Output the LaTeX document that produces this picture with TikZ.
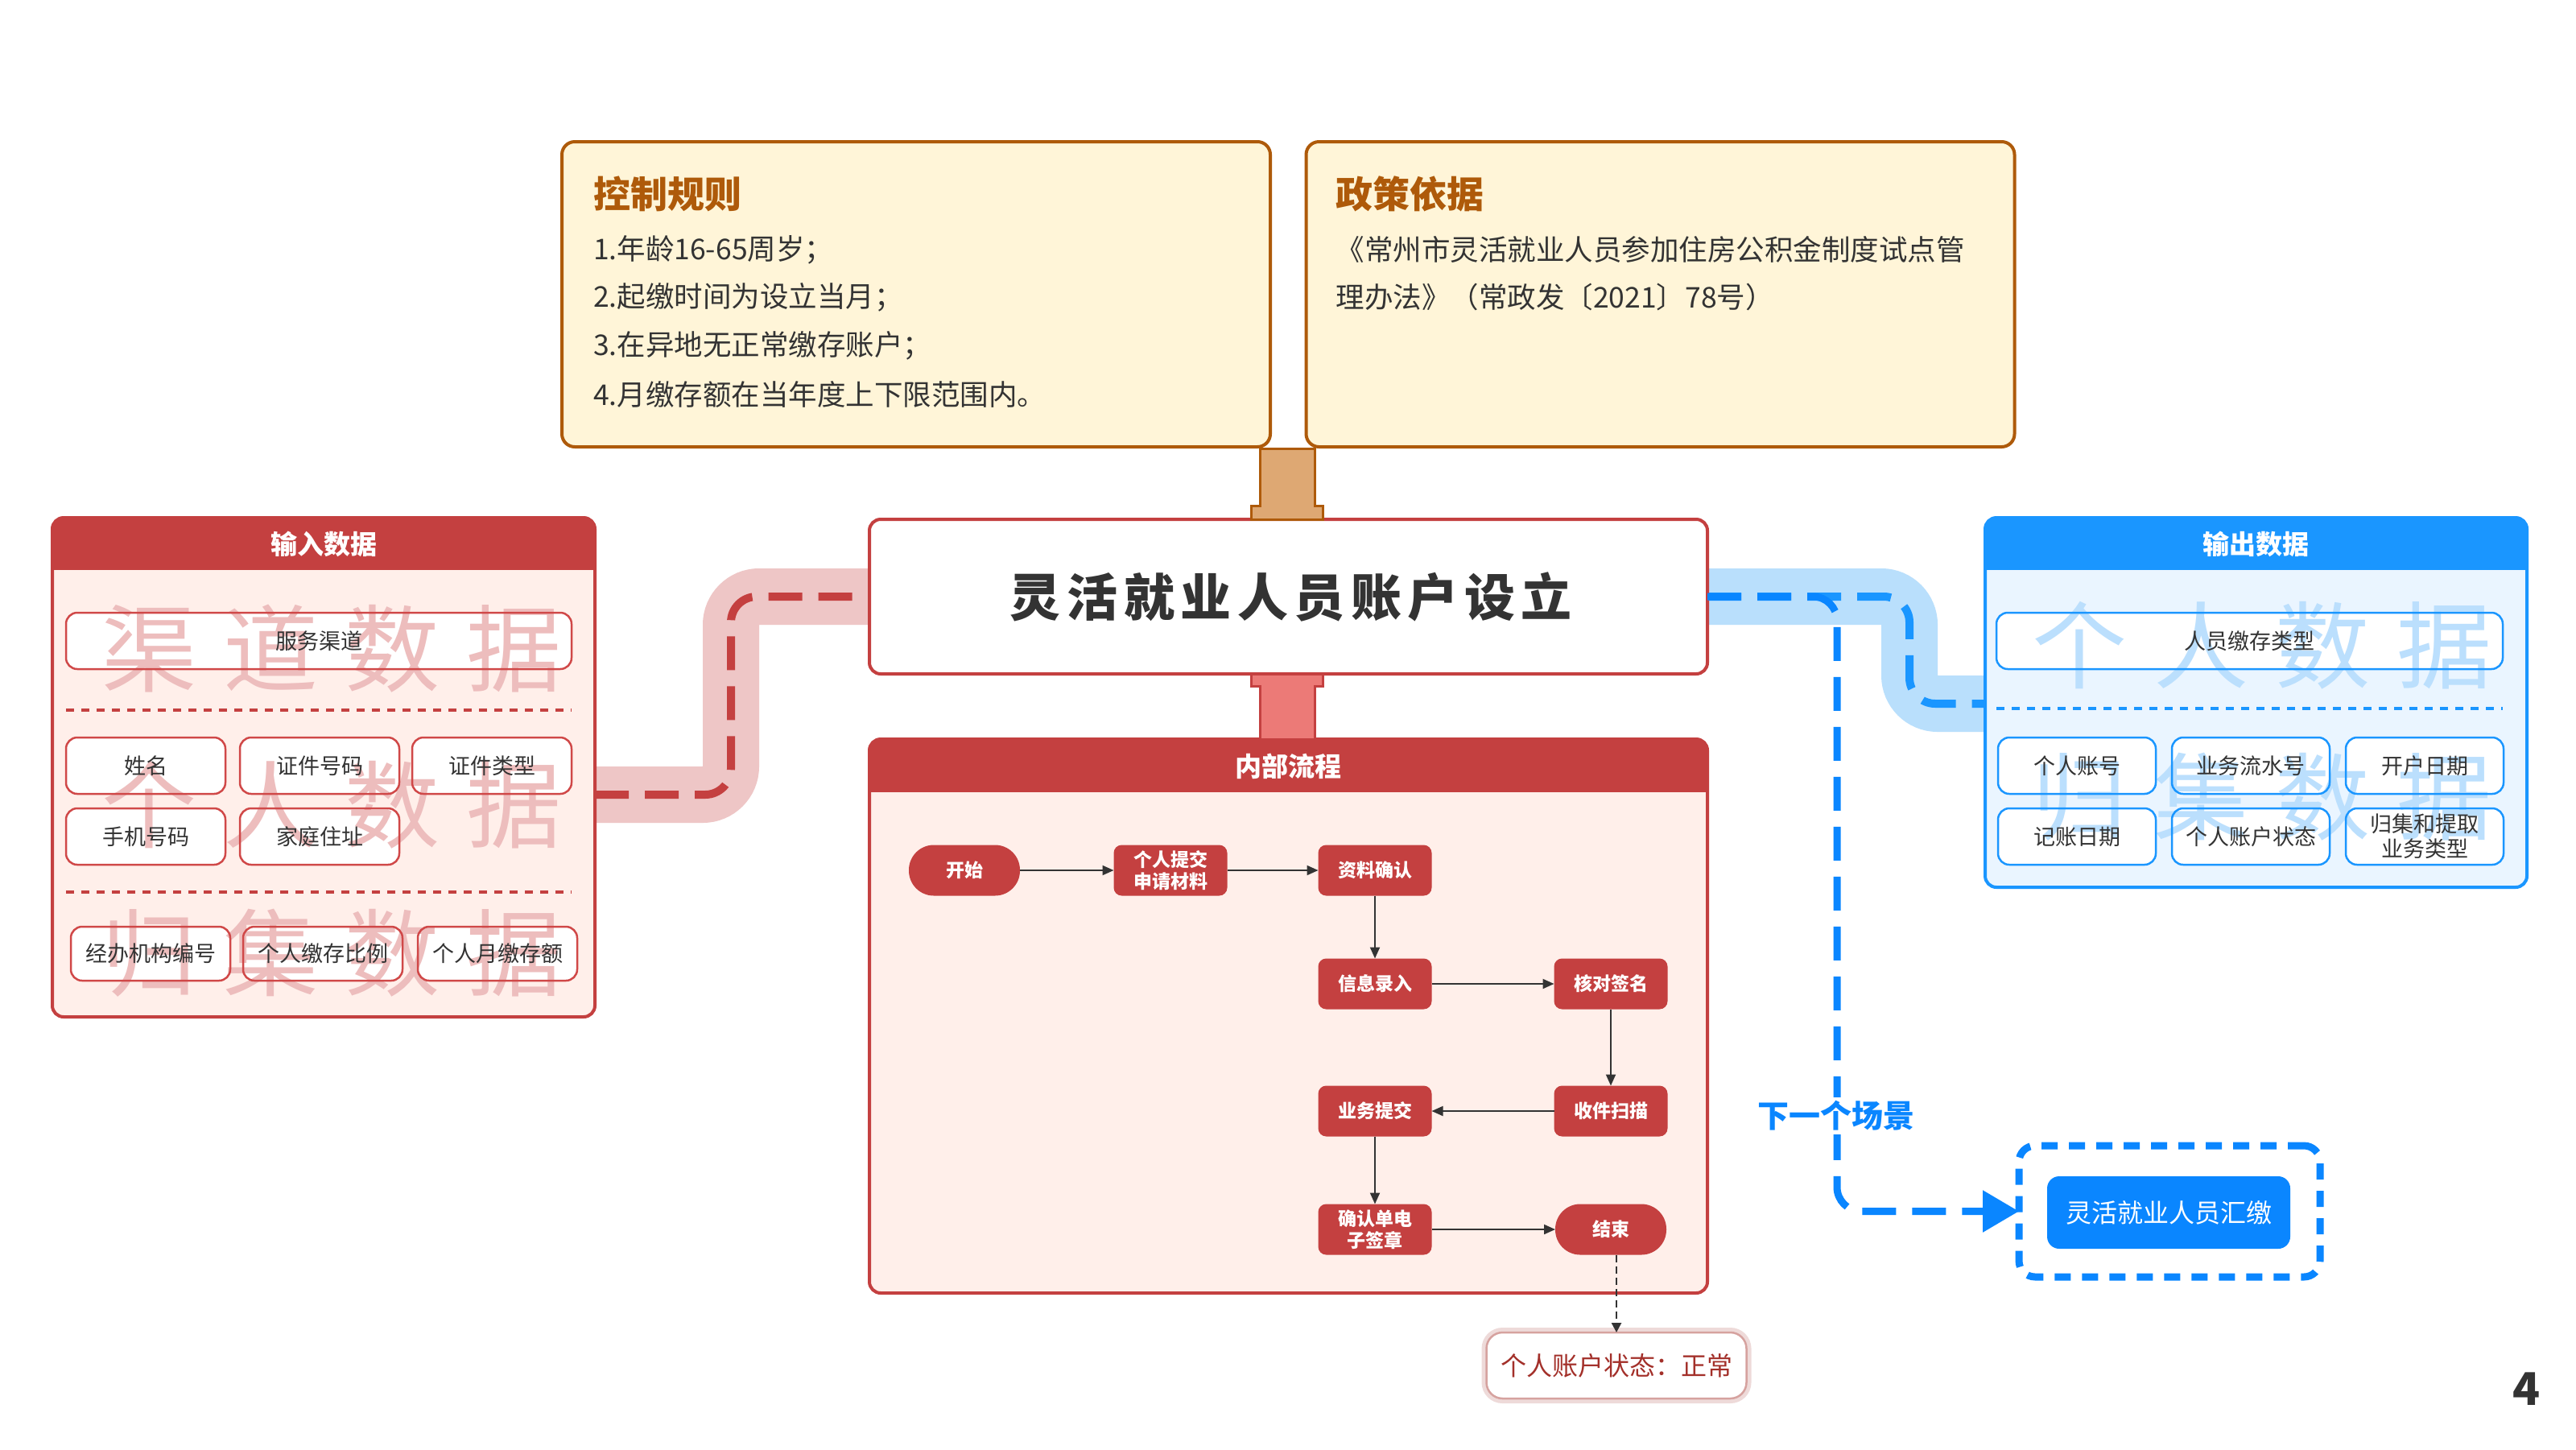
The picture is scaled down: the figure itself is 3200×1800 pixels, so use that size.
\documentclass[tikz,border=0pt]{standalone}
\usepackage{fontspec}
\setmainfont{Noto Sans CJK SC}
\newfontfamily\wmfont{Noto Sans CJK SC}[LetterSpace=28]
\newfontfamily\titlefont{Noto Sans CJK SC}[LetterSpace=12]
\usetikzlibrary{arrows.meta,calc}
\definecolor{redc}{HTML}{C44040}
\definecolor{inbg}{HTML}{FFEFEA}
\definecolor{itemred}{HTML}{D04848}
\definecolor{wmpink}{HTML}{EDBDBD}
\definecolor{bandpink}{HTML}{EEC6C6}
\definecolor{bluec}{HTML}{1A96FF}
\definecolor{outbg}{HTML}{EAF5FF}
\definecolor{bandblue}{HTML}{B9DFFC}
\definecolor{wmblue}{HTML}{BBDFFD}
\definecolor{nextblue}{HTML}{0A86FF}
\definecolor{brownc}{HTML}{AE5A0A}
\definecolor{creamc}{HTML}{FFF5D8}
\definecolor{brownfill}{HTML}{DEA873}
\definecolor{pinkfill}{HTML}{EC7A77}
\definecolor{textgray}{HTML}{333333}
\definecolor{statred}{HTML}{A3302A}
\pgfdeclarelayer{bands}
\pgfdeclarelayer{bg}
\pgfdeclarelayer{fills}
\pgfdeclarelayer{wm}
\pgfsetlayers{bands,bg,fills,wm,main}
\begin{document}
\begin{tikzpicture}[x=1pt,y=-1pt,
  every node/.style={inner sep=0pt,outer sep=0pt},
  rulebox/.style={draw=brownc,fill=creamc,line width=4pt,rounded corners=16pt,minimum width=880pt,minimum height=379pt},
  ruletitle/.style={anchor=west,text=brownc,font=\fontsize{46}{50}\selectfont\bfseries},
  ruletext/.style={anchor=west,text=textgray,font=\fontsize{35.5}{40}\selectfont},
  mainbox/.style={draw=redc,fill=white,line width=4pt,rounded corners=14pt,minimum width=1041pt,minimum height=192pt,text=textgray},
  inbox/.style={draw=redc,fill=inbg,line width=4pt,rounded corners=14pt},
  outbox/.style={draw=bluec,fill=outbg,line width=4pt,rounded corners=14pt},
  hdrtext/.style={text=white,font=\fontsize{33}{36}\selectfont\bfseries},
  item/.style={draw=itemred,line width=2.5pt,rounded corners=14pt,minimum width=198pt,minimum height=70pt,text=textgray,font=\fontsize{27}{31}\selectfont,align=center},
  oitem/.style={item,draw=bluec,minimum width=196pt},
  wmr/.style={text=wmpink,font=\wmfont\fontsize{118}{118}\selectfont},
  wmb/.style={text=wmblue,font=\wmfont\fontsize{118}{118}\selectfont},
  sepred/.style={draw=redc,line width=4pt,dash pattern=on 10pt off 9pt},
  sepblue/.style={draw=bluec,line width=4pt,dash pattern=on 10pt off 9pt},
  flow/.style={fill=redc,text=white,font=\fontsize{23}{27}\selectfont\bfseries,minimum width=141pt,minimum height=63pt,rounded corners=10pt,align=center},
  stadium/.style={flow,rounded corners=31pt,minimum width=138pt},
  flowarr/.style={draw=textgray,line width=2pt,-{Triangle[length=14pt,width=12pt]}},
  bandL/.style={draw=bandpink,line width=70pt,rounded corners=35pt},
  dashL/.style={draw=redc,line width=10pt,rounded corners=32pt,dash pattern=on 42pt off 20pt},
  bandR/.style={draw=bandblue,line width=70pt,rounded corners=35pt},
  dashR/.style={draw=bluec,line width=10pt,rounded corners=32pt,dash pattern=on 42pt off 20pt},
  nextdash/.style={draw=nextblue,line width=9pt,rounded corners=30pt,dash pattern=on 42pt off 20pt,-{Triangle[length=45pt,width=50pt]}},
  nextbox/.style={draw=nextblue,line width=9pt,rounded corners=20pt,dash pattern=on 20pt off 14pt,minimum width=374pt,minimum height=163pt},
  nextinner/.style={fill=nextblue,rounded corners=15pt,minimum width=302pt,minimum height=90pt,text=white,font=\fontsize{32}{36}\selectfont},
  status/.style={preaction={draw=statred!18,line width=12pt},draw=statred!45,line width=2.5pt,fill=white,rounded corners=20pt,minimum width=323pt,minimum height=82pt,text=statred,font=\fontsize{32}{36}\selectfont},
  dashgray/.style={draw=textgray,line width=2.5pt,dash pattern=on 9pt off 5pt,-{Triangle[length=12pt,width=12pt]}}
]
\useasboundingbox (0,0) rectangle (3200,1800);
\begin{pgfonlayer}{bands}
\fill[white] (0,0) rectangle (3200,1800);
\end{pgfonlayer}

% ---------- rules and policy ----------
\node[rulebox] (rules) at (1138,365.5) {};
\node[rulebox] (policy) at (2062.5,365.5) {};
\node[ruletitle] (rt) at ($(rules.north west)+(39,65)$) {控制规则};
\node[ruletext] (r1) at ($(rules.north west)+(39,134)$) {1.年龄16-65周岁；};
\node[ruletext] (r2) at ($(rules.north west)+(39,193)$) {2.起缴时间为设立当月；};
\node[ruletext] (r3) at ($(rules.north west)+(39,253)$) {3.在异地无正常缴存账户；};
\node[ruletext] (r4) at ($(rules.north west)+(39,314)$) {4.月缴存额在当年度上下限范围内。};
\node[ruletitle] (pt) at ($(policy.north west)+(37,65)$) {政策依据};
\node[ruletext] (p1) at ($(policy.north west)+(37,134)$) {《常州市灵活就业人员参加住房公积金制度试点管};
\node[ruletext] (p2) at ($(policy.north west)+(37,193)$) {理办法》（常政发〔2021〕78号）};

% ---------- main title ----------
\node[mainbox,font=\titlefont\fontsize{63}{70}\selectfont\bfseries] (main) at (1600.5,741) {\hspace*{7pt}灵活就业人员账户设立};

% ---------- process box ----------
\node[inbox,minimum width=1041pt,minimum height=688pt] (proc) at (1600.5,1262) {};
\begin{scope}
\clip[rounded corners=14pt] (proc.north west) rectangle (proc.south east);
\fill[redc] (proc.north west) rectangle ($(proc.north east)+(0,66)$);
\end{scope}
\node[hdrtext] (proch) at ($(proc.north)+(0,34)$) {内部流程};

% connectors between blocks
\filldraw[fill=brownfill,draw=brownc,line width=3pt]
  ($(main.north)+(-35,-88)$) -- ($(main.north)+(33,-88)$) -- ($(main.north)+(33,-17)$) -- ($(main.north)+(43,-17)$)
  -- ($(main.north)+(43,0)$) -- ($(main.north)+(-46,0)$) -- ($(main.north)+(-46,-17)$) -- ($(main.north)+(-35,-17)$) -- cycle;
\filldraw[fill=pinkfill,draw=redc,line width=3pt]
  ($(main.south)+(-46,0)$) -- ($(main.south)+(43,0)$) -- ($(main.south)+(43,15)$) -- ($(main.south)+(33,15)$)
  -- (proc.north -| {$(main.south)+(33,0)$}) -- (proc.north -| {$(main.south)+(-35,0)$}) -- ($(main.south)+(-35,15)$) -- ($(main.south)+(-46,15)$) -- cycle;

% flow nodes
\node[stadium] (start) at (1198,1081) {开始};
\node[flow] (submit) at (1454,1081) {个人提交\\申请材料};
\node[flow] (confirm) at (1708,1081) {资料确认};
\node[flow] (entry) at (1708,1222) {信息录入};
\node[flow] (sign) at (2001,1222) {核对签名};
\node[flow] (scan) at (2001,1380) {收件扫描};
\node[flow] (bizsub) at (1708,1380) {业务提交};
\node[flow] (esign) at (1708,1527) {确认单电\\子签章};
\node[stadium] (finish) at (2001,1527) {结束};
\draw[flowarr] (start) -- (submit);
\draw[flowarr] (submit) -- (confirm);
\draw[flowarr] (confirm) -- (entry);
\draw[flowarr] (entry) -- (sign);
\draw[flowarr] (sign) -- (scan);
\draw[flowarr] (scan) -- (bizsub);
\draw[flowarr] (bizsub) -- (esign);
\draw[flowarr] (esign) -- (finish);

\node[status] (stat) at (2008,1696) {个人账户状态：正常};
\draw[dashgray] (finish.south -| stat.north) -- (stat.north);

% ---------- input / output containers ----------
\begin{pgfonlayer}{bg}
\node[inbox,minimum width=674pt,minimum height=620pt] (inp) at (402,953) {};
\begin{scope}
\clip[rounded corners=14pt] (inp.north west) rectangle (inp.south east);
\fill[redc] (inp.north west) rectangle ($(inp.north east)+(0,65)$);
\end{scope}
\node[outbox,minimum width=673pt,minimum height=459pt] (out) at (2802.5,872.5) {};
\begin{scope}
\clip[rounded corners=14pt] (out.north west) rectangle (out.south east);
\fill[bluec] (out.north west) rectangle ($(out.north east)+(0,65)$);
\end{scope}
\end{pgfonlayer}
\node[hdrtext] (inph) at ($(inp.north)+(0,33)$) {输入数据};
\node[hdrtext] (outh) at ($(out.north)+(0,33)$) {输出数据};

% input items
\node[item,minimum width=628pt] (i0) at (396,796) {服务渠道};
\node[item] (i1) at (181,951) {姓名};
\node[item] (i2) at (397,951) {证件号码};
\node[item] (i3) at (611,951) {证件类型};
\node[item] (i4) at (181,1039) {手机号码};
\node[item] (i5) at (397,1039) {家庭住址};
\node[item,minimum height=67pt] (i6) at (187,1184.5) {经办机构编号};
\node[item,minimum height=67pt] (i7) at (401,1184.5) {个人缴存比例};
\node[item,minimum height=67pt] (i8) at (618,1184.5) {个人月缴存额};
\draw[sepred] (82,882) -- (710,882);
\draw[sepred] (82,1108) -- (710,1108);

% output items
\node[oitem,minimum width=629pt] (o0) at (2794.5,796) {人员缴存类型};
\node[oitem] (o1) at (2580,951) {个人账号};
\node[oitem] (o2) at (2796,951) {业务流水号};
\node[oitem] (o3) at (3012,951) {开户日期};
\node[oitem] (o4) at (2580,1039) {记账日期};
\node[oitem] (o5) at (2796,1039) {个人账户状态};
\node[oitem] (o6) at (3012,1039) {归集和提取\\业务类型};
\draw[sepblue] (2480,880) -- (3109,880);

\begin{pgfonlayer}{fills}
\foreach \nm in {i0,i1,i2,i3,i4,i5,i6,i7,i8,o0,o1,o2,o3,o4,o5,o6}
  \fill[white,rounded corners=14pt] (\nm.north west) rectangle (\nm.south east);
\end{pgfonlayer}

\begin{pgfonlayer}{wm}
\node[wmr] (w1) at (412,806) {渠道数据};
\node[wmr] (w2) at (412,1000) {个人数据};
\node[wmr] (w3) at (412,1184) {归集数据};
\node[wmb] (w4) at (2810,802) {个人数据};
\node[wmb] (w5) at (2810,990) {归集数据};
\end{pgfonlayer}

% ---------- bands ----------
\begin{pgfonlayer}{bands}
\coordinate (lb) at (908,987);
\draw[bandL] (inp.east |- lb) -- (lb) -- (lb |- main.west) -- (main.west);
\draw[dashL] (inp.east |- lb) -- (lb) -- (lb |- main.west) -- (main.west);
\coordinate (rb) at (2372,874);
\draw[bandR] (main.east) -- (rb |- main.east) -- (rb) -- (rb -| out.west);
\draw[dashR] (main.east) -- (rb |- main.east) -- (rb) -- (rb -| out.west);
\end{pgfonlayer}

% ---------- next scene ----------
\node[nextbox] (nextb) at (2695,1504.5) {};
\node[nextinner] (nexti) at (2694,1506) {灵活就业人员汇缴};
\coordinate (nb) at (2282,741);
\draw[nextdash] (main.east) -- (nb) -- (nb |- nextb.west) -- (nextb.west);
\node[fill=white,inner sep=4pt,text=nextblue,font=\fontsize{39}{42}\selectfont\bfseries] (nextl) at (2281,1386) {下一个场景};

% page number
\node[text=textgray,font=\fontsize{56}{60}\selectfont\bfseries] (pg) at (3139,1725) {4};
\end{tikzpicture}
\end{document}
